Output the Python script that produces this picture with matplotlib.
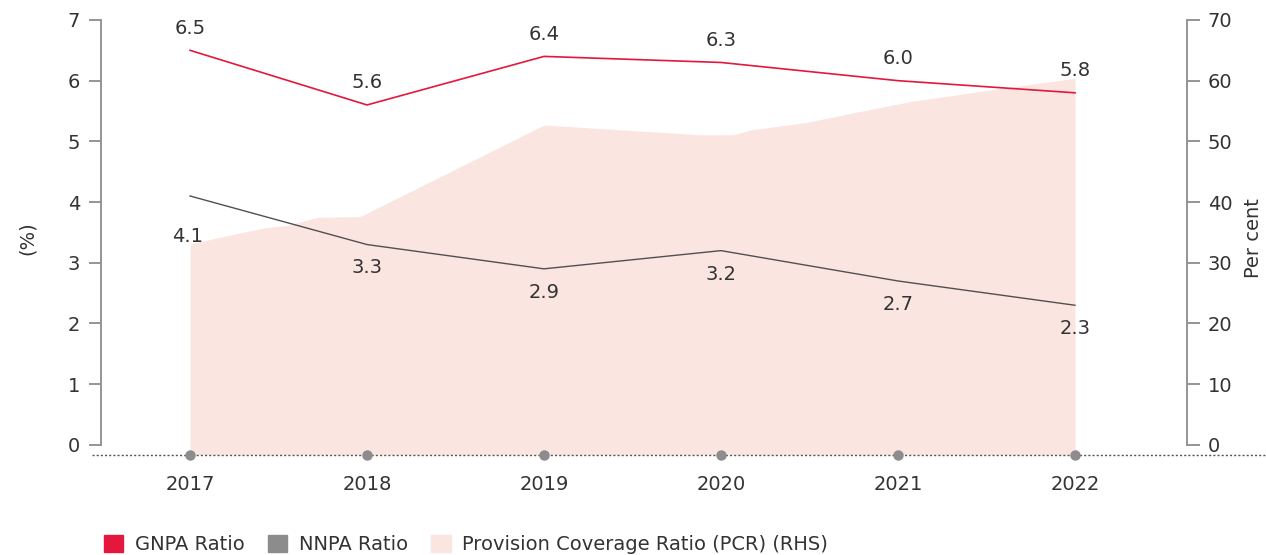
import numpy as np
import matplotlib.pyplot as plt
from matplotlib.patches import Patch

plt.rcParams['font.family'] = ['DejaVu Sans']

years = [2017, 2018, 2019, 2020, 2021, 2022]
gnpa = [6.5, 5.6, 6.4, 6.3, 6.0, 5.8]
nnpa = [4.1, 3.3, 2.9, 3.2, 2.7, 2.3]

# provision coverage ratio, sampled along the year axis (RHS, per cent)
pcr_x = [2017.0, 2017.28, 2017.43, 2017.56, 2017.72, 2017.96, 2019.0,
         2019.87, 2020.07, 2020.17, 2020.48, 2020.78, 2021.08, 2021.53, 2022.0]
pcr = [33.1, 34.9, 35.8, 36.2, 37.5, 37.6, 52.7,
       51.1, 51.1, 51.9, 53.1, 54.9, 56.6, 58.5, 60.4]

red = '#e4173e'
dark = '#505050'
grey = '#8c8c8c'
pink = '#fbe5e1'
txt = '#333333'
fs = 14

fig = plt.figure(figsize=(12.66, 5.55), dpi=100)
ax = fig.add_axes([0.0798, 0.1766, 0.8578, 0.7874])
ax2 = ax.twinx()

ax.set_zorder(ax2.get_zorder() + 1)
ax.patch.set_visible(False)

base = -0.165
ax2.fill_between(pcr_x, base * 10, pcr, color=pink, lw=0)

ax.plot(years, gnpa, color=red, lw=1.2)
ax.plot(years, nnpa, color=dark, lw=1.0)

for i, (x, v) in enumerate(zip(years, gnpa)):
    ax.annotate(f'{v:.1f}', (x, v), xytext=(0, 9), textcoords='offset points',
                ha='center', va='bottom', fontsize=fs, color=txt)
for i, (x, v) in enumerate(zip(years, nnpa)):
    off = -22 if i == 0 else -10
    ax.annotate(f'{v:.1f}', (x, v), xytext=(-2 if i == 0 else 0, off), textcoords='offset points',
                ha='center', va='top', fontsize=fs, color=txt)

# dotted baseline with year markers
ax.axhline(base, xmin=-0.008, xmax=1.08, color='#555555', lw=1.0,
           ls=(0, (1.5, 1.5)), clip_on=False)
ax.plot(years, [base] * len(years), 'o', color=grey, ms=6.5, clip_on=False, zorder=5)

ax.set_xlim(2017 - 0.503, 2022 + 0.633)
ax.set_ylim(-0.2, 7)
ax2.set_ylim(-2, 70)
ax.set_yticks(range(0, 8))
ax2.set_yticks(range(0, 71, 10))
ax.set_xticks(years)
ax.set_xticklabels([str(y) for y in years])

for a in (ax, ax2):
    for s in ('top', 'bottom'):
        a.spines[s].set_visible(False)
ax.spines['right'].set_visible(False)
ax2.spines['left'].set_visible(False)
ax.spines['left'].set_bounds(0, 7)
ax2.spines['right'].set_bounds(0, 70)
ax.spines['left'].set_color(grey)
ax2.spines['right'].set_color(grey)
ax.spines['left'].set_linewidth(1.3)
ax2.spines['right'].set_linewidth(1.3)

ax.tick_params(axis='y', length=9, width=1.3, color=grey, labelsize=fs, labelcolor=txt, pad=6)
ax2.tick_params(axis='y', length=9, width=1.3, color=grey, labelsize=fs, labelcolor=txt, pad=6)
ax.tick_params(axis='x', length=0, labelsize=fs, labelcolor=txt, pad=13)

ax.set_ylabel('(%)', fontsize=fs, color=txt, labelpad=22)
ax2.set_ylabel('Per cent', fontsize=fs, color=txt, labelpad=8)

handles = [Patch(color=red, label='GNPA Ratio'),
           Patch(color=grey, label='NNPA Ratio'),
           Patch(color=pink, label='Provision Coverage Ratio (PCR) (RHS)')]
fig.legend(handles=handles, loc='lower left', bbox_to_anchor=(0.068, -0.03), ncol=3,
           frameon=False, fontsize=fs, handlelength=1.0, handleheight=1.0,
           handletextpad=0.6, columnspacing=1.2, labelcolor=txt)

fig.savefig('out.png', dpi=100)
